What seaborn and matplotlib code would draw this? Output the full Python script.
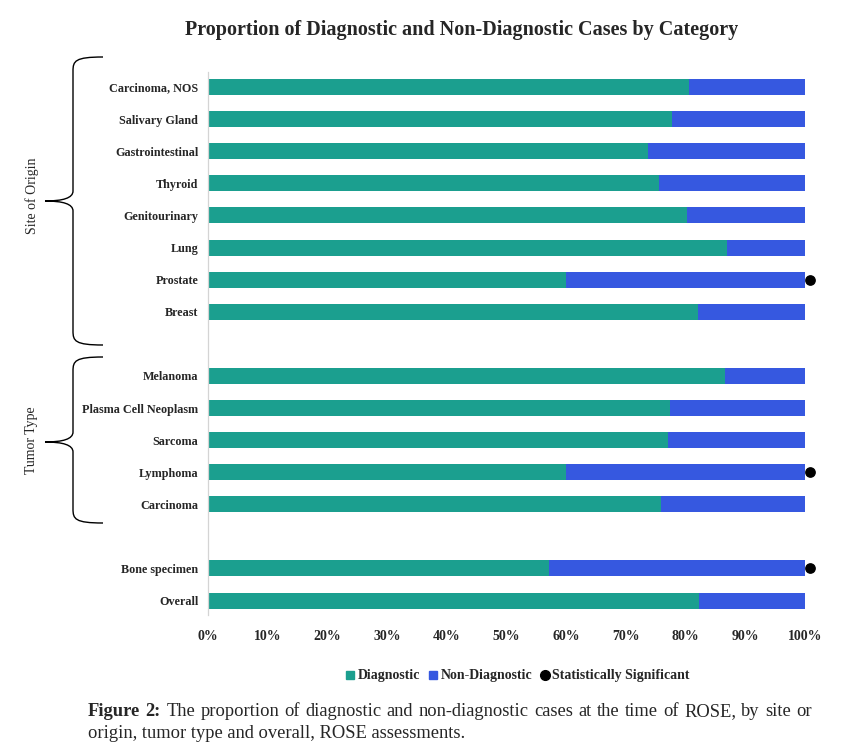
import matplotlib
matplotlib.use("Agg")
import matplotlib.pyplot as plt
from matplotlib.lines import Line2D
from matplotlib.path import Path
from matplotlib.patches import PathPatch
import pandas as pd
import seaborn as sns

categories = [
    "Carcinoma, NOS", "Salivary Gland", "Gastrointestinal", "Thyroid",
    "Genitourinary", "Lung", "Prostate", "Breast",
    "Melanoma", "Plasma Cell Neoplasm", "Sarcoma", "Lymphoma", "Carcinoma",
    "Bone specimen", "Overall",
]
# slot of each bar from the top (gaps at 8 and 14)
slots = [0, 1, 2, 3, 4, 5, 6, 7, 9, 10, 11, 12, 13, 15, 16]
diagnostic = [0.805, 0.777, 0.737, 0.755, 0.802, 0.869, 0.600, 0.820,
              0.866, 0.774, 0.770, 0.599, 0.758, 0.572, 0.823]
significant = [False, False, False, False, False, False, True, False,
               False, False, False, True, False, True, False]
x_ticks = [0, 0.1, 0.2, 0.3, 0.4, 0.5, 0.6, 0.7, 0.8, 0.9, 1.0]
x_labels = ["0%", "10%", "20%", "30%", "40%", "50%", "60%", "70%", "80%", "90%", "100%"]

TEAL = "#1b9f8f"
BLUE = "#3658e0"
W, H = 850, 752

df = pd.DataFrame({
    "category": categories,
    "slot": slots,
    "diagnostic": diagnostic,
    "total": [1.0] * len(categories),
    "significant": significant,
})

sns.set_style("white")
plt.rcParams["font.family"] = ["Liberation Serif", "DejaVu Serif"]

fig = plt.figure(figsize=(W / 100, H / 100), dpi=100)
ax = fig.add_axes([208 / W, 1 - 615 / H, (805 - 208) / W, (615 - 72) / H])

sns.barplot(data=df, x="total", y="slot", orient="y", native_scale=True,
            color=BLUE, width=0.5, errorbar=None, saturation=1, linewidth=0, ax=ax)
sns.barplot(data=df, x="diagnostic", y="slot", orient="y", native_scale=True,
            color=TEAL, width=0.5, errorbar=None, saturation=1, linewidth=0, ax=ax)

sig = df[df["significant"]]
ax.scatter([1.008] * len(sig), sig["slot"], s=45, color="black",
           zorder=5, clip_on=False)

ax.set_xlim(0, 1)
ax.set_ylim(16.45, -0.47)
ax.set_xticks(x_ticks)
ax.set_xticklabels(x_labels, fontweight="bold", fontsize=10)
ax.set_yticks(slots)
ax.set_yticklabels(categories, fontweight="bold", fontsize=8.7)
ax.tick_params(axis="x", length=0, pad=11)
ax.tick_params(axis="y", length=0, pad=7)
ax.set_xlabel("")
ax.set_ylabel("")
for side in ["top", "right", "bottom"]:
    ax.spines[side].set_visible(False)
ax.spines["left"].set_color("#d4d4d4")
ax.spines["left"].set_linewidth(0.9)

fig.text(462 / W, 1 - 30 / H, "Proportion of Diagnostic and Non-Diagnostic Cases by Category",
         ha="center", va="center", fontsize=14.5, fontweight="bold")

handles = [
    Line2D([], [], marker="s", linestyle="", color=TEAL, markersize=5.5),
    Line2D([], [], marker="s", linestyle="", color=BLUE, markersize=5.5),
    Line2D([], [], marker="o", linestyle="", color="black", markersize=7),
]
fig.legend(handles, ["Diagnostic", "Non-Diagnostic", "Statistically Significant"],
           loc="center", bbox_to_anchor=(518 / W, 1 - 676 / H), ncol=3,
           frameon=False, handlelength=0.6, handletextpad=0.25, columnspacing=0.6,
           prop={"weight": "bold", "size": 10})


def px(x, y):
    return (x / W, 1 - y / H)


def brace(top, bottom, mid, x_line=73, x_end=103, x_tip=45):
    verts = [
        px(x_end, top), px(x_line + 2, top), px(x_line, top + 4), px(x_line, top + 14),
        px(x_line, mid - 10),
        px(x_line, mid - 3), px(x_line - 10, mid), px(x_tip, mid),
        px(x_line - 10, mid), px(x_line, mid + 3), px(x_line, mid + 10),
        px(x_line, bottom - 14),
        px(x_line, bottom - 4), px(x_line + 2, bottom), px(x_end, bottom),
    ]
    codes = [Path.MOVETO, Path.CURVE4, Path.CURVE4, Path.CURVE4,
             Path.LINETO,
             Path.CURVE4, Path.CURVE4, Path.CURVE4,
             Path.CURVE4, Path.CURVE4, Path.CURVE4,
             Path.LINETO,
             Path.CURVE4, Path.CURVE4, Path.CURVE4]
    fig.add_artist(PathPatch(Path(verts, codes), transform=fig.transFigure,
                             fill=False, edgecolor="black", linewidth=1.0))


brace(57, 345, 201)
brace(357, 523, 442)
fig.text(32 / W, 1 - 196 / H, "Site of Origin", rotation=90, ha="center",
         va="center", fontsize=10)
fig.text(32 / W, 1 - 440 / H, "Tumor Type", rotation=90, ha="center",
         va="center", fontsize=10)

# caption, first line justified
renderer = fig.canvas.get_renderer()
line1 = ["Figure", "2:", "The", "proportion", "of", "diagnostic", "and",
         "non-diagnostic", "cases", "at", "the", "time", "of", "ROSE,", "by",
         "site", "or"]
texts = []
for i, w in enumerate(line1):
    t = fig.text(0, 1 - 716 / H, w, fontsize=13.3, va="baseline",
                 fontweight="bold" if i < 2 else "normal")
    texts.append(t)
widths = [t.get_window_extent(renderer).width for t in texts]
gap = (812 - 88 - sum(widths)) / (len(texts) - 1)
x = 88
for t, wd in zip(texts, widths):
    t.set_x(x / W)
    x += wd + gap
fig.text(88 / W, 1 - 738 / H, "origin, tumor type and overall, ROSE assessments.",
         fontsize=13.3, va="baseline")

fig.savefig("out.png", dpi=100)
